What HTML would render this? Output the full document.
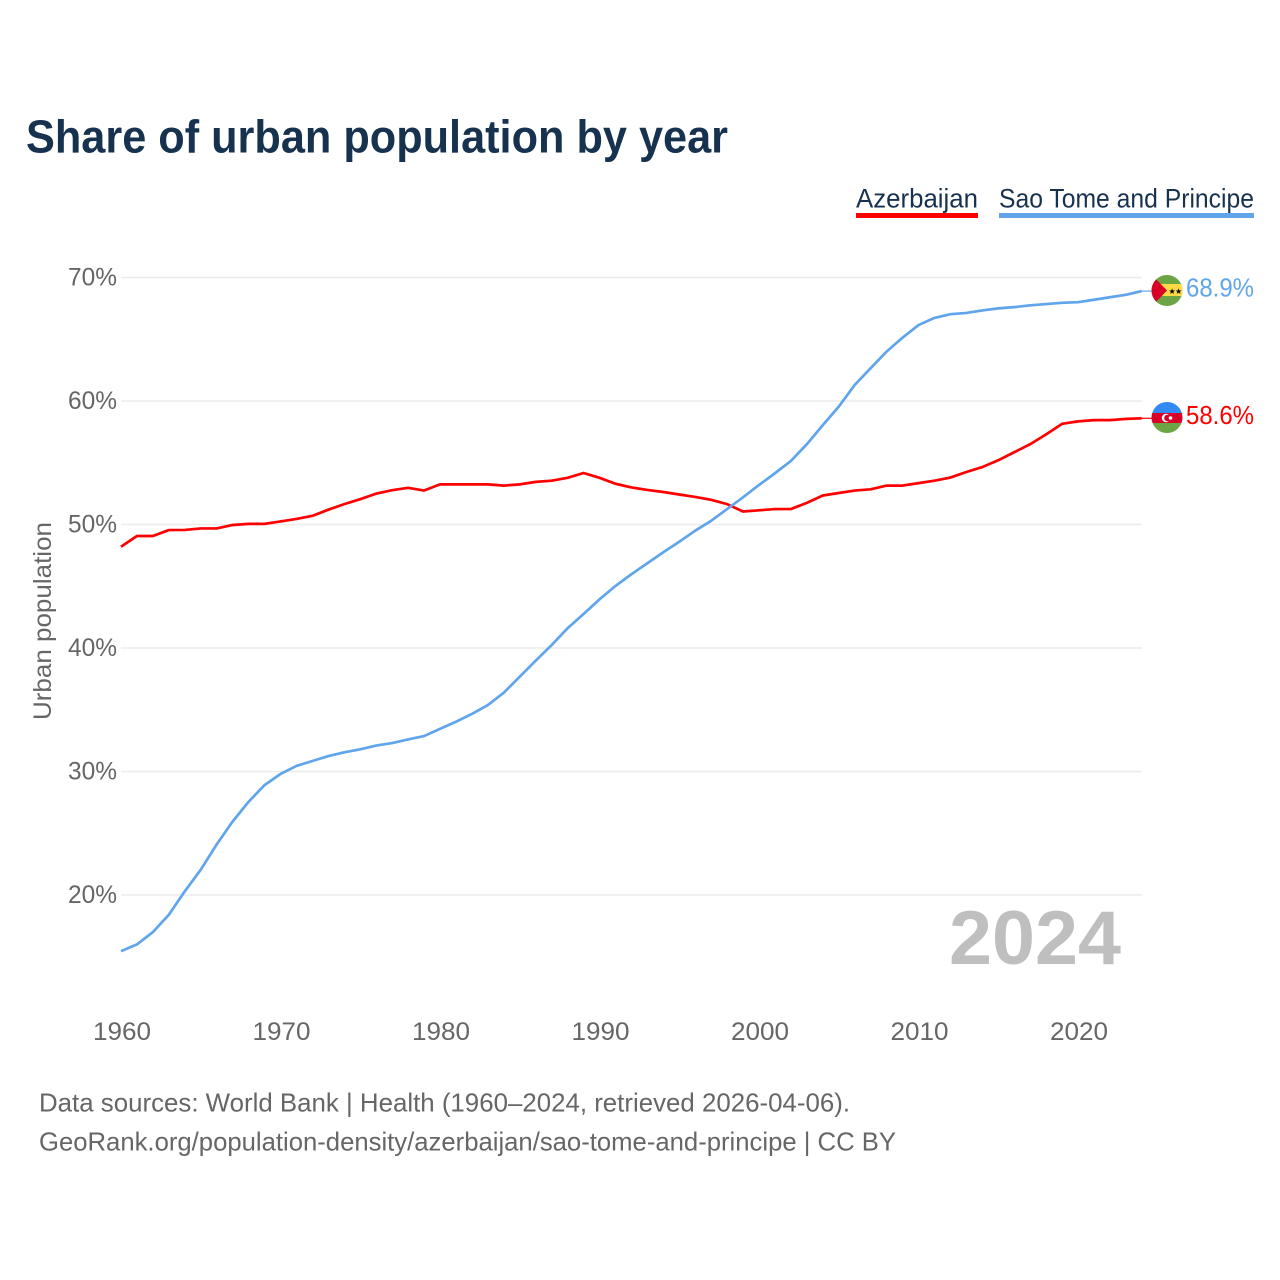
<!DOCTYPE html>
<html lang="en">
<head>
<meta charset="utf-8">
<title>Share of urban population by year</title>
<style>
html,body{margin:0;padding:0;background:#fff}
svg{display:block}
text{font-family:"Liberation Sans",sans-serif}
</style>
</head>
<body>
<svg id="chart" xmlns="http://www.w3.org/2000/svg" width="1280" height="1280" viewBox="0 0 1280 1280">
<defs>
<clipPath id="flag-clip-st"><circle cx="1167" cy="290.5" r="15.5"/></clipPath>
<clipPath id="flag-clip-az"><circle cx="1167" cy="417.5" r="15.5"/></clipPath>
</defs>
<rect x="0" y="0" width="1280" height="1280" fill="#fff"/>
<text x="26" y="152.5" font-size="46" font-weight="700" fill="#17324f" textLength="702" lengthAdjust="spacingAndGlyphs">Share of urban population by year</text>

<g>
<g>
<text x="856" y="207.5" font-size="26.5" fill="#17324f" textLength="122" lengthAdjust="spacingAndGlyphs">Azerbaijan</text>
<rect x="856" y="213" width="122" height="5" fill="#ff0000"/>
</g>
<g>
<text x="999" y="207.5" font-size="26.5" fill="#17324f" textLength="255" lengthAdjust="spacingAndGlyphs">Sao Tome and Principe</text>
<rect x="999" y="213" width="255" height="5" fill="#60a5ec"/>
</g>
</g>

<g id="grid"></g>
<g id="y-axis"></g>
<g id="x-axis"></g>
<text transform="translate(51,621) rotate(-90)" text-anchor="middle" font-size="25" fill="#666" textLength="198" lengthAdjust="spacingAndGlyphs">Urban population</text>
<text x="949" y="964" font-size="76" font-weight="700" fill="#bfbfbf" textLength="172" lengthAdjust="spacingAndGlyphs">2024</text>
<g id="series"></g>

<g clip-path="url(#flag-clip-st)">
<rect x="1151" y="275" width="32" height="32" fill="#6da544"/>
<rect x="1151" y="284" width="32" height="12" fill="#ffda44"/>
<polygon points="1151,274 1167,290.5 1151,307" fill="#d80027"/>
<text x="1168.5" y="294" font-size="8" fill="#000">★</text>
<text x="1175" y="294" font-size="8" fill="#000">★</text>
</g>
<g clip-path="url(#flag-clip-az)">
<rect x="1151" y="402" width="32" height="11" fill="#338af3"/>
<rect x="1151" y="413" width="32" height="10" fill="#d80027"/>
<rect x="1151" y="423" width="32" height="11" fill="#6da544"/>
<circle cx="1166" cy="418" r="4.2" fill="#fff"/>
<circle cx="1167.5" cy="418" r="3.3" fill="#d80027"/>
<circle cx="1170.5" cy="418" r="1.8" fill="#fff"/>
</g>

<text id="end-label-st" x="1254" y="296.5" text-anchor="end" font-size="26" fill="#60a5ec" textLength="68" lengthAdjust="spacingAndGlyphs">68.9%</text>
<text id="end-label-az" x="1254" y="424" text-anchor="end" font-size="26" fill="#ff0000" textLength="68" lengthAdjust="spacingAndGlyphs">58.6%</text>

<text x="39" y="1111.5" font-size="26" fill="#666" textLength="811" lengthAdjust="spacingAndGlyphs">Data sources: World Bank | Health (1960–2024, retrieved 2026-04-06).</text>
<text x="39" y="1150.5" font-size="26" fill="#666" textLength="857" lengthAdjust="spacingAndGlyphs">GeoRank.org/population-density/azerbaijan/sao-tome-and-principe | CC BY</text>
</svg>
<script>
const startYear = 1960;
const yTicks = [20, 30, 40, 50, 60, 70];
const xTicks = [1960, 1970, 1980, 1990, 2000, 2010, 2020];
const azerbaijanValues = [
  48.2, 49.07, 49.07, 49.55, 49.56, 49.68, 49.68, 49.96, 50.05, 50.05,
  50.25, 50.45, 50.7, 51.2, 51.65, 52.05, 52.5, 52.78, 52.97, 52.75,
  53.25, 53.25, 53.25, 53.25, 53.15, 53.25, 53.45, 53.55, 53.78, 54.17,
  53.78, 53.3, 53.0, 52.8, 52.63, 52.43, 52.23, 52.0, 51.65, 51.05,
  51.15, 51.25, 51.25, 51.75, 52.35, 52.55, 52.75, 52.85, 53.15, 53.15,
  53.35, 53.55, 53.8, 54.25, 54.65, 55.2, 55.85, 56.5, 57.3, 58.15,
  58.35, 58.45, 58.45, 58.55, 58.6
];
const saoTomeValues = [
  15.45, 16.0, 17.0, 18.4, 20.3, 22.05, 24.1, 25.95, 27.55, 28.9,
  29.8, 30.45, 30.85, 31.25, 31.55, 31.8, 32.1, 32.3, 32.6, 32.87,
  33.45, 34.03, 34.66, 35.38, 36.38, 37.68, 38.97, 40.24, 41.6, 42.75,
  43.94, 45.02, 45.97, 46.86, 47.75, 48.6, 49.5, 50.3, 51.25, 52.2,
  53.2, 54.15, 55.15, 56.5, 58.05, 59.54, 61.3, 62.66, 64.0, 65.13,
  66.15, 66.73, 67.03, 67.13, 67.33, 67.5, 67.6, 67.75, 67.85, 67.95,
  68.0, 68.2, 68.4, 68.6, 68.9
];

const NS = 'http://www.w3.org/2000/svg';
function xScale(year) { return 121 + (year - 1960) * 15.95; }
function yScale(value) { return 524.5 - (value - 50) * 12.35; }
function make(tag, attrs, parent, content) {
  const el = document.createElementNS(NS, tag);
  Object.keys(attrs).forEach(function (k) { el.setAttribute(k, attrs[k]); });
  if (content !== undefined) el.textContent = content;
  parent.appendChild(el);
  return el;
}
const gridGroup = document.getElementById('grid');
const yGroup = document.getElementById('y-axis');
const xGroup = document.getElementById('x-axis');
const seriesGroup = document.getElementById('series');

yTicks.forEach(function (t) {
  const line = make('line', { x1: 121, x2: 1142, y1: yScale(t), y2: yScale(t), stroke: '#ececec', 'stroke-width': 1.5 }, gridGroup);
  
  
  const label = make('text', { x: 117, y: yScale(t) + 8, 'text-anchor': 'end', 'font-size': 25, fill: '#666', textLength: 49, lengthAdjust: 'spacingAndGlyphs' }, yGroup, t + '%');
  
  
});

xTicks.forEach(function (t) {
  const label = make('text', { x: xScale(t) + 1, y: 1040, 'text-anchor': 'middle', 'font-size': 25, fill: '#666', textLength: 58, lengthAdjust: 'spacingAndGlyphs' }, xGroup, String(t));
  
  
});

function linePoints(values) {
  return values.map(function (v, i) {
    return xScale(startYear + i).toFixed(2) + ',' + yScale(v).toFixed(2);
  }).join(' ');
}
function lastPoint(values) {
  return { x: xScale(startYear + values.length - 1), y: yScale(values[values.length - 1]) };
}

const azLine = make('polyline', { points: linePoints(azerbaijanValues), fill: 'none', stroke: '#ff0000', 'stroke-width': 2.7, 'stroke-linejoin': 'round' }, seriesGroup);


const stLine = make('polyline', { points: linePoints(saoTomeValues), fill: 'none', stroke: '#60a5ec', 'stroke-width': 2.7, 'stroke-linejoin': 'round' }, seriesGroup);



const azEnd = lastPoint(azerbaijanValues);
const azLead = make('line', { x1: azEnd.x, x2: 1152, y1: azEnd.y, y2: azEnd.y, stroke: '#ff0000', 'stroke-width': 1.2 }, seriesGroup);


const stEnd = lastPoint(saoTomeValues);
const stLead = make('line', { x1: stEnd.x, x2: 1152, y1: stEnd.y, y2: stEnd.y, stroke: '#60a5ec', 'stroke-width': 1.2 }, seriesGroup);


</script>
</body>
</html>
